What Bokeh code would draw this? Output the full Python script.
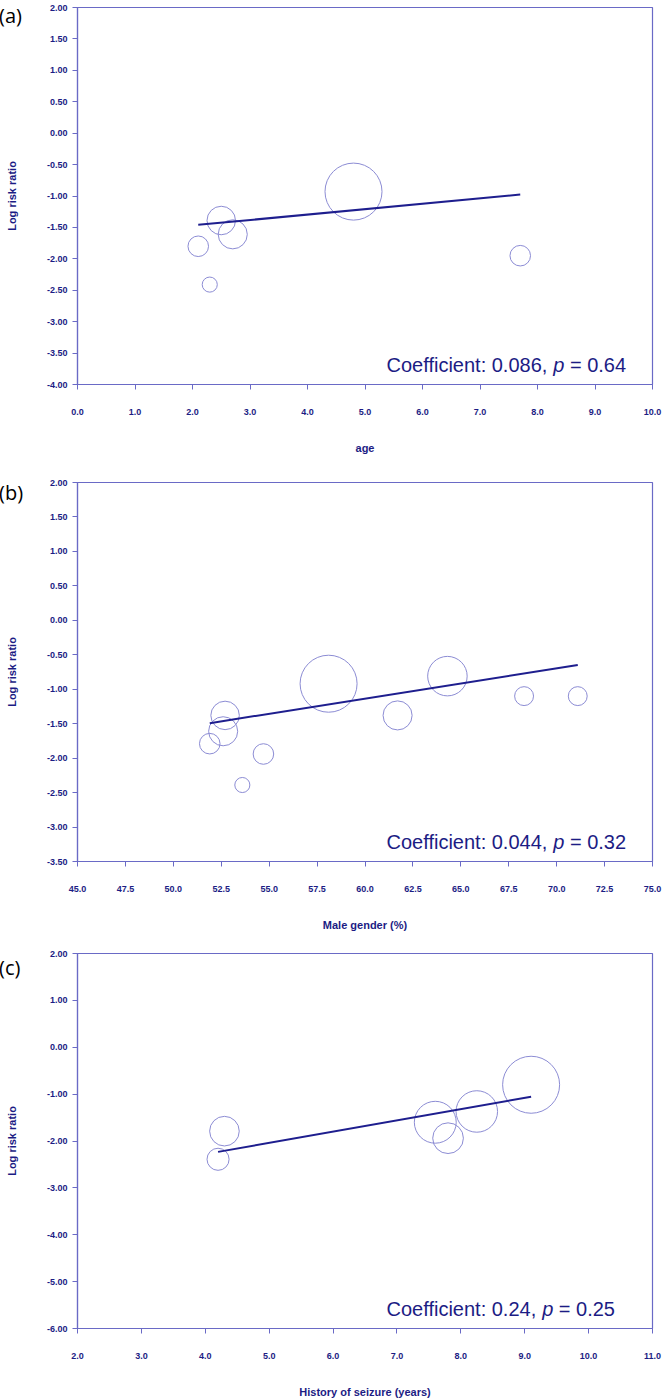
from bokeh.plotting import figure
from bokeh.layouts import column
from bokeh.models import FixedTicker, NumeralTickFormatter, Label, Range1d, Div
from bokeh.embed import file_html
from bokeh.resources import INLINE
import math

# ---------------- data ----------------
# (a) age
age_x = [2.10, 2.30, 2.50, 2.70, 4.80, 7.70]
age_lrr = [-1.80, -2.41, -1.39, -1.61, -0.93, -1.95]
age_w = [13, 7, 25, 26, 100, 13]
age_coef, age_icpt, age_p = "0.086", -1.64, "0.64"

# (b) male gender (%)
male_x = [52.7, 52.6, 51.9, 54.7, 53.6, 58.1, 61.7, 64.3, 68.3, 71.1]
male_lrr = [-1.38, -1.61, -1.79, -1.94, -2.39, -0.92, -1.38, -0.81, -1.10, -1.10]
male_w = [25, 26, 13, 13, 7, 100, 26, 48, 11, 11]
male_coef, male_icpt, male_p = "0.044", -3.776, "0.32"

# (c) history of seizure (years)
seiz_x = [4.30, 4.20, 7.60, 7.80, 8.25, 9.10]
seiz_lrr = [-1.79, -2.39, -1.60, -1.94, -1.37, -0.80]
seiz_w = [27, 15, 54, 29, 53, 100]
seiz_coef, seiz_icpt, seiz_p = "0.24", -3.24, "0.25"

# ---------------- style ----------------
NAVY = "#1c1c84"
FRAME = "#6a6ac6"
BUBBLE = "#8c8cd4"
LINE = "#1e1e8e"
DMAX = 57.0

CW = {'C': 722, 'o': 556, 'e': 556, 'f': 278, 'i': 222, 'c': 500, 'n': 556, 't': 278,
      ':': 278, ' ': 278, '.': 278, ',': 278, 'p': 556, '=': 584}
for d in "0123456789":
    CW[d] = 556


def tw(s, fs):
    return sum(CW[ch] for ch in s) * fs / 1000.0


def panel(xs, ys, ws, coef, icpt, ptxt, xr, yr, xticks, yticks, xlab, H, btop, bbot):
    p = figure(width=662, height=H, x_range=Range1d(*xr), y_range=Range1d(*yr),
               output_backend="svg", toolbar_location=None,
               min_border_left=77, min_border_right=10,
               min_border_top=btop, min_border_bottom=bbot)
    p.grid.visible = False
    p.outline_line_color = FRAME
    p.outline_line_width = 1.2
    p.background_fill_color = "white"
    p.border_fill_color = "white"

    for ax in (p.xaxis[0], p.yaxis[0]):
        ax.axis_line_color = FRAME
        ax.axis_line_width = 1.2
        ax.major_tick_line_color = FRAME
        ax.minor_tick_line_color = None
        ax.major_tick_out = 5
        ax.major_tick_in = 0
        ax.major_label_text_font = "Liberation Sans"
        ax.major_label_text_font_style = "bold"
        ax.major_label_text_font_size = "9px"
        ax.major_label_text_color = NAVY
        ax.axis_label_text_font = "Liberation Sans"
        ax.axis_label_text_font_style = "bold"
        ax.axis_label_text_font_size = "11px"
        ax.axis_label_text_color = NAVY

    p.xaxis.ticker = FixedTicker(ticks=xticks)
    p.yaxis.ticker = FixedTicker(ticks=yticks)
    p.xaxis.formatter = NumeralTickFormatter(format="0.0")
    p.yaxis.formatter = NumeralTickFormatter(format="0.00")
    p.xaxis.major_label_standoff = 19
    p.xaxis.axis_label_standoff = 24
    p.yaxis.major_label_standoff = 5
    p.yaxis.axis_label_standoff = 26
    p.xaxis.axis_label = xlab
    p.yaxis.axis_label = "Log risk ratio"

    sizes = [DMAX * math.sqrt(w / 100.0) for w in ws]
    p.scatter(xs, ys, size=sizes, marker="circle", fill_color=None,
              line_color=BUBBLE, line_width=1)

    slope = float(coef)
    lx = [min(xs), max(xs)]
    ly = [icpt + slope * v for v in lx]
    p.line(lx, ly, line_color=LINE, line_width=2)

    # coefficient annotation (p in italics)
    fs = 20
    left = "Coefficient: " + coef + ","
    right = "= " + ptxt
    x0 = 309
    y0 = 20
    common = dict(x_units="screen", y_units="screen", text_font="Liberation Sans",
                  text_font_size=f"{fs}px", text_color=NAVY, text_baseline="middle",
                  text_align="left")
    p.add_layout(Label(x=x0, y=y0, text=left, **common))
    x1 = x0 + tw(left + " ", fs)
    p.add_layout(Label(x=x1, y=y0, text="p", text_font_style="italic", **common))
    x2 = x1 + tw("p ", fs)
    p.add_layout(Label(x=x2, y=y0, text=right, **common))
    return p


def tag(text, left, top):
    return Div(text=text, styles={"position": "absolute", "left": f"{left}px", "top": f"{top}px",
                                  "font-family": "Open Sans", "font-size": "20px",
                                  "color": "black", "line-height": "20px", "z-index": "10"})


pa = panel(age_x, age_lrr, age_w, age_coef, age_icpt, age_p,
           (0, 10), (-4, 2), [i * 1.0 for i in range(0, 11)],
           [-4 + 0.5 * i for i in range(13)], "age", 470, 7, 86)
pb = panel(male_x, male_lrr, male_w, male_coef, male_icpt, male_p,
           (45, 75), (-3.5, 2), [45 + 2.5 * i for i in range(13)],
           [-3.5 + 0.5 * i for i in range(12)], "Male gender (%)", 473, 12, 82)
pc = panel(seiz_x, seiz_lrr, seiz_w, seiz_coef, seiz_icpt, seiz_p,
           (2, 11), (-6, 2), [2.0 + i for i in range(10)],
           [-6.0 + i for i in range(9)], "History of seizure (years)", 457, 10, 70)

layout = column(pa, pb, pc, tag("(a)", -6, 1), tag("(b)", -6, 478), tag("(c)", -6, 953), spacing=0)
open("out.html", "w").write(file_html(layout, INLINE))
